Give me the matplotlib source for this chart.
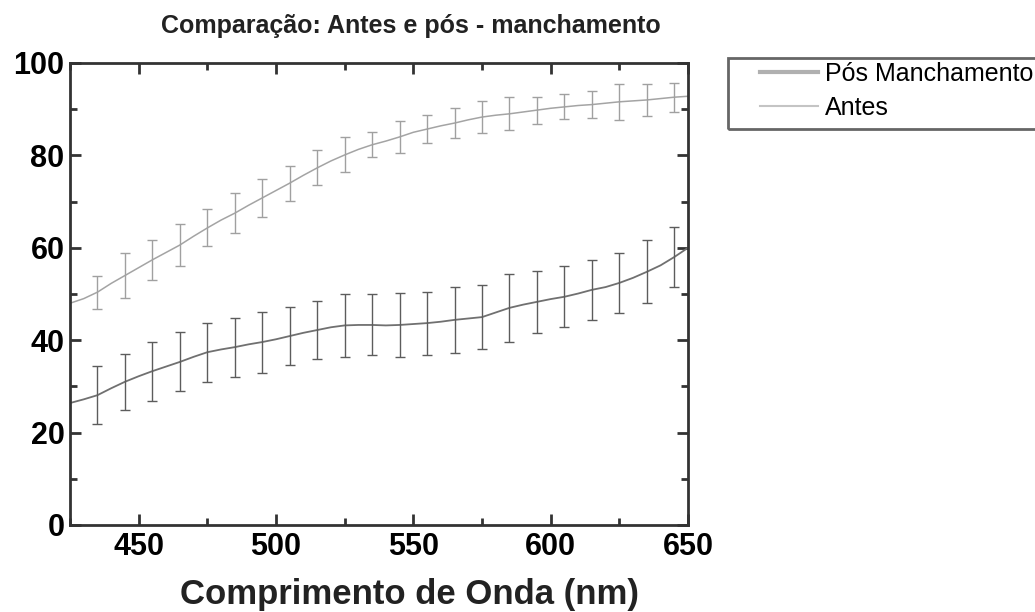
import matplotlib
matplotlib.use('Agg')
import matplotlib.pyplot as plt
from matplotlib.lines import Line2D
from matplotlib.patches import Rectangle
from matplotlib.ticker import MultipleLocator

plt.rcParams['font.family'] = ['Liberation Sans', 'DejaVu Sans']

# wavelength grid (nm)
wavelength = [425, 430, 435, 440, 445, 450, 455, 460, 465, 470, 475, 480,
              485, 490, 495, 500, 505, 510, 515, 520, 525, 530, 535, 540,
              545, 550, 555, 560, 565, 570, 575, 580, 585, 590, 595, 600,
              605, 610, 615, 620, 625, 630, 635, 640, 645, 650]

antes = [48.0, 49.0, 50.4, 52.3, 54.0, 55.7, 57.4, 59.0, 60.6, 62.5, 64.3, 66.0,
         67.5, 69.2, 70.8, 72.4, 74.0, 75.7, 77.3, 78.8, 80.1, 81.3, 82.3, 83.1,
         84.0, 85.0, 85.7, 86.4, 87.0, 87.7, 88.3, 88.7, 89.0, 89.4, 89.8, 90.2,
         90.5, 90.8, 91.0, 91.3, 91.6, 91.8, 92.0, 92.3, 92.6, 92.8]

pos_manchamento = [26.4, 27.2, 28.1, 29.6, 31.0, 32.2, 33.3, 34.3, 35.3, 36.4, 37.4, 38.0,
                   38.5, 39.1, 39.6, 40.2, 40.9, 41.6, 42.2, 42.8, 43.2, 43.3, 43.3, 43.2,
                   43.3, 43.5, 43.7, 44.0, 44.4, 44.7, 45.0, 46.0, 47.0, 47.7, 48.3, 48.9,
                   49.4, 50.1, 50.9, 51.5, 52.4, 53.5, 54.8, 56.2, 58.0, 60.0]

# error bars every 10 nm
err_wavelength = [435, 445, 455, 465, 475, 485, 495, 505, 515, 525, 535,
                  545, 555, 565, 575, 585, 595, 605, 615, 625, 635, 645]
antes_err = [3.6, 4.8, 4.3, 4.5, 4.0, 4.4, 4.2, 3.8, 3.8, 3.8, 2.7,
             3.4, 3.1, 3.2, 3.5, 3.6, 2.9, 2.7, 2.9, 3.9, 3.5, 3.1]
pos_err = [6.3, 6.0, 6.4, 6.4, 6.4, 6.4, 6.6, 6.3, 6.3, 6.8, 6.6,
           7.0, 6.8, 7.1, 6.9, 7.3, 6.7, 6.6, 6.5, 6.5, 6.8, 6.4]

W, H = 1035, 612
fig = plt.figure(figsize=(W / 100, H / 100), dpi=100)
ax = fig.add_axes([70 / W, 1 - 525 / H, 618 / W, 462 / H])

idx = [wavelength.index(w) for w in err_wavelength]

ax.plot(wavelength, pos_manchamento, color='#707070', lw=1.3)
ax.errorbar(err_wavelength, [pos_manchamento[i] for i in idx], yerr=pos_err,
            fmt='none', ecolor='#5c5c5c', elinewidth=1, capsize=3.5, capthick=1)
ax.plot(wavelength, antes, color='#a4a4a4', lw=1.1)
ax.errorbar(err_wavelength, [antes[i] for i in idx], yerr=antes_err,
            fmt='none', ecolor='#a0a0a0', elinewidth=1, capsize=3.5, capthick=1)

ax.set_xlim(425, 650)
ax.set_ylim(0, 100)
ax.set_xticks([450, 500, 550, 600, 650])
ax.xaxis.set_minor_locator(MultipleLocator(25))
ax.set_yticks([0, 20, 40, 60, 80, 100])
ax.yaxis.set_minor_locator(MultipleLocator(10))

ax.tick_params(which='both', direction='in', top=True, right=True,
               width=2, color='#333333', labelsize=22)
ax.tick_params(which='major', length=8)
ax.tick_params(which='minor', length=5)
ax.tick_params(axis='x', pad=5)
ax.tick_params(axis='y', pad=4)
for lbl in ax.get_xticklabels() + ax.get_yticklabels():
    lbl.set_fontweight('bold')
for s in ax.spines.values():
    s.set_linewidth(2)
    s.set_color('#333333')

fig.text(411 / W, 1 - 33 / H, 'Comparação: Antes e pós - manchamento',
         ha='center', va='baseline', fontsize=18, fontweight='bold', color='#222222')
fig.text(410 / W, 1 - 604 / H, 'Comprimento de Onda (nm)',
         ha='center', va='baseline', fontsize=25, fontweight='bold', color='#222222')

# legend, its frame runs off the right edge
handles = [Line2D([], [], color='#b0b0b0', lw=3),
           Line2D([], [], color='#c4c4c4', lw=1.5)]
fig.legend(handles, ['Pós Manchamento', 'Antes'], loc='upper left',
           bbox_to_anchor=(760 / W, 1 - 62 / H), frameon=False, fontsize=18,
           handlelength=2.3, handletextpad=0.3, labelspacing=0.4,
           borderpad=0, borderaxespad=0)
fig.add_artist(Rectangle((728 / W, 1 - 129 / H), 330 / W, 71 / H,
                         transform=fig.transFigure, fill=False,
                         ec='#666666', lw=2))

fig.savefig('out.png', dpi=100)
